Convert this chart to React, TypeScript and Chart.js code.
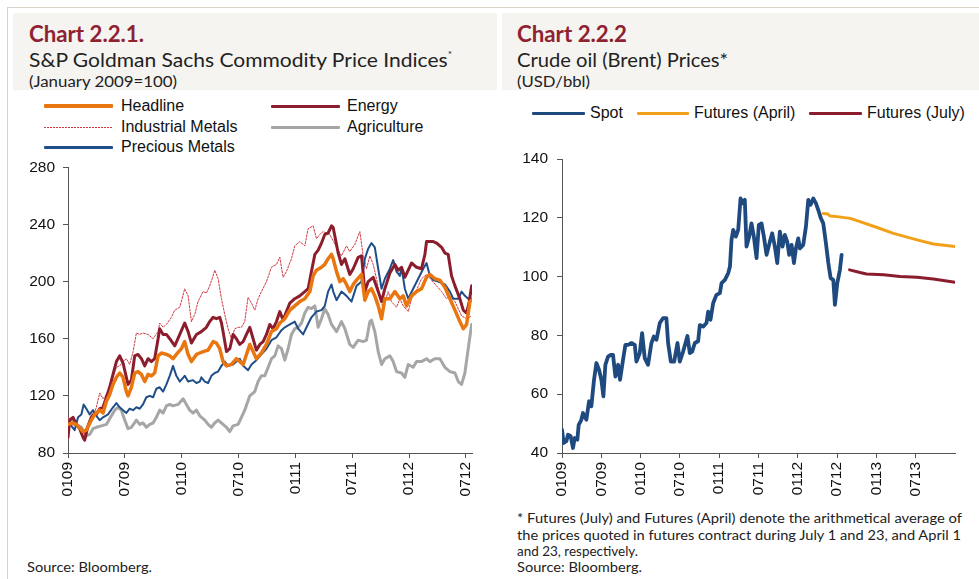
import React, { useEffect, useLayoutEffect, useRef } from 'react';
import { Chart, registerables } from 'chart.js';

Chart.register(...registerables);

// ---------- Chart 2.2.1 data (x = months since January 2009) ----------
const leftTickMonths = [0, 6, 12, 18, 24, 30, 36, 42];
const leftTickLabels = ['0109', '0709', '0110', '0710', '0111', '0711', '0112', '0712'];
const leftYTicks = [80, 120, 160, 200, 240, 280];

const headline: [number, number][] = [
  [0, 100], [0.5, 101], [0.88, 100], [1.58, 95], [1.94, 96], [2.46, 103], [2.82, 107], [3.35, 110], [3.7, 108], [4.05, 116],
  [4.4, 121], [4.75, 128], [5.11, 133], [5.46, 136], [5.81, 133], [6.16, 123], [6.34, 120], [6.69, 126], [7.04, 136], [7.39, 137],
  [7.75, 135], [8.1, 130], [8.45, 135], [8.8, 134], [9.15, 136], [9.51, 148], [9.86, 150], [10.39, 149], [10.74, 148], [11.09, 146],
  [11.44, 149], [11.97, 153], [12.32, 158], [12.68, 149], [13.03, 144], [13.56, 149], [13.91, 150], [14.26, 151], [14.79, 152], [15.32, 158],
  [15.67, 157], [16.02, 153], [16.37, 144], [16.73, 141], [17.25, 142], [17.78, 146], [18.13, 144], [18.49, 142], [18.84, 149], [19.19, 156],
  [19.54, 151], [19.89, 146], [20.42, 150], [20.95, 156], [21.48, 165], [22.01, 167], [22.36, 171], [22.89, 174], [23.42, 180], [23.94, 183],
  [24.47, 186], [25, 188], [25.53, 193], [25.88, 204], [26.23, 208], [26.76, 210], [27.11, 212], [27.46, 216], [27.82, 219], [27.99, 216],
  [28.35, 207], [28.7, 200], [29.05, 202], [29.4, 198], [29.75, 193], [30.11, 198], [30.46, 201], [30.99, 205], [31.34, 187], [31.69, 193],
  [32.04, 195], [32.39, 190], [32.75, 183], [33.1, 174], [33.45, 188], [33.98, 188], [34.51, 193], [35.04, 188], [35.39, 190], [35.74, 183],
  [36.27, 190], [36.8, 193], [37.32, 195], [37.85, 203], [38.2, 205], [38.73, 202], [39.26, 201], [39.79, 196], [40.32, 188], [40.85, 180],
  [41.37, 172], [41.73, 167], [42.08, 170], [42.43, 186], [42.61, 187],
];

const energy: [number, number][] = [
  [0, 91], [0.18, 103], [0.53, 105], [0.88, 100], [1.23, 97], [1.58, 91], [1.76, 89], [2.11, 99], [2.46, 105], [2.82, 108],
  [2.99, 107], [3.35, 111], [3.7, 112], [4.05, 119], [4.4, 126], [4.75, 135], [5.11, 144], [5.46, 148], [5.81, 143], [6.16, 133],
  [6.34, 128], [6.69, 131], [7.04, 148], [7.39, 149], [7.75, 146], [8.1, 141], [8.45, 146], [8.8, 144], [9.15, 146], [9.51, 160],
  [9.68, 167], [10.04, 163], [10.39, 163], [10.74, 160], [11.27, 155], [11.8, 163], [12.32, 171], [12.68, 165], [13.03, 157], [13.56, 163],
  [14.08, 165], [14.61, 168], [14.96, 172], [15.32, 175], [15.67, 174], [16.02, 175], [16.2, 171], [16.37, 165], [16.73, 151], [17.08, 153],
  [17.43, 163], [17.78, 160], [18.13, 156], [18.49, 158], [18.84, 163], [19.19, 168], [19.54, 160], [19.89, 152], [20.25, 156], [20.6, 158],
  [20.95, 163], [21.3, 170], [21.65, 167], [22.01, 172], [22.36, 179], [22.71, 173], [23.06, 179], [23.42, 185], [23.94, 188], [24.47, 190],
  [25, 193], [25.35, 195], [25.7, 207], [26.06, 219], [26.41, 222], [26.76, 227], [27.11, 233], [27.46, 234], [27.82, 239], [27.99, 238],
  [28.52, 220], [28.87, 212], [29.23, 216], [29.75, 205], [30.11, 209], [30.63, 217], [30.99, 218], [31.34, 193], [31.69, 200], [32.22, 203],
  [32.75, 193], [33.1, 186], [33.45, 195], [33.98, 206], [34.51, 212], [34.86, 208], [35.21, 210], [35.56, 203], [36.27, 213], [36.8, 210],
  [37.32, 209], [37.68, 219], [37.85, 228], [38.56, 228], [38.91, 227], [39.44, 224], [39.79, 220], [40.14, 219], [40.49, 204], [40.85, 197],
  [41.37, 188], [41.73, 180], [42.08, 178], [42.36, 186], [42.61, 197],
];

const industrialMetals: [number, number][] = [
  [0, 105], [0.35, 100], [0.88, 99], [1.41, 98], [1.76, 93], [2.29, 100], [2.64, 105], [2.99, 112], [3.35, 122], [3.7, 118],
  [4.05, 121], [4.4, 125], [4.75, 133], [5.11, 140], [5.46, 141], [5.81, 144], [6.16, 146], [6.51, 142], [6.87, 151], [7.22, 164],
  [7.57, 163], [7.92, 164], [8.45, 163], [8.98, 160], [9.51, 165], [9.68, 171], [10.04, 168], [10.39, 170], [10.92, 175], [11.27, 180],
  [11.8, 182], [12.32, 195], [12.68, 190], [13.03, 172], [13.38, 177], [13.73, 186], [14.26, 193], [14.61, 192], [14.96, 197], [15.32, 204],
  [15.49, 208], [15.85, 202], [16.2, 188], [16.55, 177], [16.9, 167], [17.25, 160], [17.61, 167], [17.96, 168], [18.31, 168], [18.66, 172],
  [19.01, 189], [19.37, 185], [19.72, 180], [20.07, 188], [20.42, 193], [20.95, 200], [21.48, 210], [22.01, 212], [22.36, 217], [22.71, 203],
  [23.06, 207], [23.59, 216], [23.94, 225], [24.47, 228], [25, 225], [25.35, 237], [25.88, 239], [26.23, 230], [26.58, 233], [26.94, 235],
  [27.29, 234], [27.64, 233], [28.35, 224], [28.87, 218], [29.4, 225], [29.75, 221], [30.28, 226], [30.81, 235], [31.16, 218], [31.51, 209],
  [31.87, 218], [32.22, 212], [32.57, 202], [32.92, 190], [33.27, 181], [33.8, 193], [34.15, 186], [34.68, 182], [35.04, 188], [35.39, 183],
  [35.92, 179], [36.27, 188], [36.8, 194], [37.32, 202], [37.85, 205], [38.38, 201], [38.91, 197], [39.44, 193], [39.96, 188], [40.32, 190],
  [40.85, 186], [41.55, 176], [42.08, 174], [42.61, 176],
];

const agriculture: [number, number][] = [
  [0, 103], [0.35, 104], [0.88, 100], [1.41, 98], [1.94, 92], [2.29, 93], [2.64, 97], [2.99, 98], [3.52, 99], [4.05, 100],
  [4.4, 104], [4.93, 110], [5.28, 112], [5.63, 110], [5.99, 103], [6.34, 97], [6.69, 98], [7.22, 103], [7.57, 100], [7.92, 101],
  [8.27, 98], [8.63, 100], [8.98, 101], [9.33, 105], [9.68, 110], [10.04, 108], [10.39, 113], [10.74, 114], [11.09, 113], [11.62, 114],
  [12.15, 118], [12.5, 114], [12.85, 110], [13.2, 108], [13.56, 110], [13.91, 106], [14.44, 103], [14.79, 100], [15.14, 98], [15.49, 101],
  [15.85, 103], [16.37, 100], [16.73, 98], [17.08, 95], [17.43, 99], [17.96, 100], [18.31, 105], [18.66, 110], [19.19, 120], [19.72, 123],
  [20.07, 130], [20.42, 134], [20.77, 134], [21.13, 140], [21.48, 146], [21.83, 148], [22.18, 155], [22.54, 153], [22.89, 145], [23.24, 153],
  [23.59, 163], [23.94, 167], [24.3, 168], [24.65, 171], [25, 178], [25.35, 182], [25.7, 181], [26.06, 183], [26.41, 168], [26.76, 174],
  [27.11, 181], [27.46, 177], [27.82, 170], [28.35, 165], [28.87, 172], [29.23, 167], [29.75, 156], [30.11, 154], [30.63, 159], [31.16, 158],
  [31.51, 159], [31.87, 172], [32.04, 173], [32.39, 165], [32.75, 151], [33.1, 142], [33.45, 146], [33.98, 148], [34.33, 144], [34.68, 137],
  [35.21, 136], [35.56, 133], [35.92, 142], [36.44, 140], [36.8, 144], [37.32, 144], [37.85, 146], [38.2, 144], [38.73, 146], [39.26, 146],
  [39.79, 140], [40.32, 137], [40.85, 136], [41.2, 130], [41.55, 128], [41.9, 136], [42.25, 153], [42.61, 170],
];

const preciousMetals: [number, number][] = [
  [0, 101], [0.35, 99], [0.7, 96], [1.06, 105], [1.41, 107], [1.65, 114], [1.94, 111], [2.29, 107], [2.64, 110], [2.99, 106],
  [3.35, 103], [3.7, 105], [4.23, 107], [4.75, 112], [5.11, 115], [5.46, 112], [5.81, 110], [6.16, 108], [6.51, 111], [6.87, 110],
  [7.22, 112], [7.57, 111], [7.92, 114], [8.27, 119], [8.63, 120], [8.98, 119], [9.33, 125], [9.68, 126], [10.04, 123], [10.39, 128],
  [10.74, 134], [11.09, 141], [11.44, 134], [11.8, 130], [12.32, 134], [12.68, 130], [13.2, 131], [13.56, 129], [13.91, 130], [14.08, 133],
  [14.44, 130], [14.79, 129], [15.14, 134], [15.49, 136], [15.85, 137], [16.2, 141], [16.55, 144], [16.9, 141], [17.43, 142], [17.78, 144],
  [18.13, 146], [18.49, 141], [19.01, 138], [19.37, 142], [19.89, 145], [20.42, 149], [20.95, 153], [21.48, 159], [22.01, 161], [22.54, 166],
  [22.89, 168], [23.42, 170], [23.94, 172], [24.3, 167], [24.82, 163], [25.18, 168], [25.7, 175], [26.23, 179], [26.76, 180], [27.11, 183],
  [27.46, 193], [27.82, 198], [28, 193], [28.35, 187], [28.87, 193], [29.4, 190], [29.93, 186], [30.46, 197], [30.99, 200], [31.34, 216],
  [31.69, 223], [32.04, 227], [32.39, 224], [32.75, 209], [33.1, 195], [33.45, 202], [33.98, 209], [34.33, 215], [34.68, 207], [35.04, 204],
  [35.21, 210], [35.56, 195], [35.92, 188], [36.44, 195], [36.97, 202], [37.5, 209], [37.85, 213], [38.2, 204], [38.56, 201], [39.08, 200],
  [39.79, 198], [40.32, 193], [40.67, 188], [41.2, 188], [41.55, 193], [41.9, 190], [42.25, 188], [42.61, 188],
];

// ---------- Chart 2.2.2 data (x = months since January 2009) ----------
const rightTickMonths = [0, 6, 12, 18, 24, 30, 36, 42, 48, 54];
const rightTickLabels = ['0109', '0709', '0110', '0710', '0111', '0711', '0112', '0712', '0113', '0713'];
const rightYTicks = [40, 60, 80, 100, 120, 140];

const spot: [number, number][] = [
  [0, 47.9], [0.25, 43.4], [0.66, 44], [0.92, 46.2], [1.32, 45.7], [1.68, 41.7], [1.94, 45.1], [2.34, 44.5], [2.55, 49.6], [2.95, 51.3],
  [3.21, 53.6], [3.72, 51.3], [4.13, 57.6], [4.48, 55.9], [4.89, 64.9], [5.25, 70.6], [5.65, 68.3], [6.01, 64.9], [6.32, 59.3], [6.62, 70],
  [7.03, 72.8], [7.44, 73.4], [7.79, 73.4], [8.15, 66], [8.56, 70], [8.86, 64.9], [9.32, 71.7], [9.68, 76.8], [10.09, 76.8], [10.6, 77.4],
  [11.11, 76.8], [11.36, 71.1], [11.87, 74], [12.23, 80.8], [12.63, 72.3], [13.14, 70], [13.65, 77.4], [14.01, 79.6], [14.42, 78.5], [14.93, 84.2],
  [15.44, 85.9], [15.94, 85.9], [16.2, 77.4], [16.61, 71.1], [17.12, 71.1], [17.63, 77.4], [17.98, 71.1], [18.49, 74.5], [19.15, 79.8], [19.51, 74],
  [19.87, 74.5], [20.28, 77.4], [20.78, 78], [21.04, 83.5], [21.55, 83], [22.06, 84.2], [22.32, 88.1], [22.67, 85.3], [23.08, 91], [23.59, 93.8],
  [24.1, 94.4], [24.36, 97.8], [24.87, 98.9], [25.38, 101.2], [25.64, 103.4], [25.88, 112.5], [26.14, 115.9], [26.54, 113.6], [26.9, 115.9], [27.26, 126.6],
  [27.57, 124.9], [27.91, 126.1], [28.17, 110.2], [28.58, 113.6], [28.93, 118.1], [29.29, 113.6], [29.7, 106.3], [30.05, 117.6], [30.46, 118.1], [30.82, 113.6],
  [31.23, 107.4], [31.74, 111.9], [32.09, 114.7], [32.5, 110.2], [32.86, 104.6], [33.26, 115.3], [33.67, 110.2], [34.02, 114.2], [34.38, 111.9], [34.69, 107.4],
  [35.05, 110.8], [35.41, 104.6], [35.71, 109.6], [36.07, 113], [36.32, 109.6], [36.83, 110.8], [37.24, 117], [37.6, 126.1], [37.95, 124.4], [38.36, 126.6],
  [38.77, 124.9], [39.12, 122.7], [39.53, 119.8], [39.89, 118.1], [40.3, 111.3], [40.66, 104.6], [41.01, 99.5], [41.42, 98.9], [41.67, 90.4], [42.03, 97.8],
  [42.43, 102.3], [42.69, 107.4],
];

const futuresApril: [number, number][] = [
  [39.9, 121.5], [40.6, 121.3], [40.9, 120.6], [42, 120.4], [44, 119.8], [45.5, 118.7], [48, 116.8], [50.6, 114.7], [54.2, 112.5], [56.7, 111.1], [60, 110.2],
];

const futuresJuly: [number, number][] = [
  [43.9, 102.3], [45.5, 101.4], [46.5, 100.9], [49.1, 100.6], [51.6, 100], [54.2, 99.8], [56.7, 99.2], [60, 98.1],
];

// ---------- styling ----------
const TICK_FONT = "'Liberation Sans', Arial, Helvetica, sans-serif";
const GOTHIC = "Lato, 'Open Sans', sans-serif";
const TITLE_RED = '#8E2232';
const FRAME = '#D8D2C8';
const HEADER_BG = '#F5F4F0';

const C_HEADLINE = '#E9760F';
const C_ENERGY = '#8C1D2C';
const C_INDUSTRIAL = '#CF3A45';
const C_AGRI = '#A6A6A6';
const C_PRECIOUS = '#1F4E89';
const C_SPOT = '#1F4A7F';
const C_APRIL = '#F2A01A';
const C_JULY = '#8A1C2C';

type Series = { data: [number, number][]; color: string; width: number; dash?: number[] };

function toPoints(arr: [number, number][]) {
  return arr.map(([x, y]) => ({ x, y }));
}

function FitText(props: { x: number; y: number; w: number; size: number; weight?: number; color?: string; children: React.ReactNode }) {
  const ref = useRef<HTMLDivElement>(null);
  useLayoutEffect(() => {
    const fit = () => {
      const el = ref.current;
      if (!el) return;
      el.style.transform = 'none';
      const actual = el.getBoundingClientRect().width;
      if (actual > 0) el.style.transform = `scaleX(${props.w / actual})`;
    };
    fit();
    if ((document as any).fonts && (document as any).fonts.ready) (document as any).fonts.ready.then(fit);
  }, [props.w]);
  return (
    <div
      ref={ref}
      style={{
        position: 'absolute',
        left: props.x,
        top: props.y,
        whiteSpace: 'nowrap',
        transformOrigin: '0 0',
        fontFamily: GOTHIC,
        fontSize: props.size,
        fontWeight: props.weight ?? 400,
        lineHeight: 1,
        color: props.color ?? '#222',
      }}
    >
      {props.children}
    </div>
  );
}

function LegendItem(props: { x: number; y: number; lineW: number; gap: number; color: string; thick: number; dotted?: boolean; label: string }) {
  const lineStyle: React.CSSProperties = props.dotted
    ? { width: props.lineW, height: 1, background: `repeating-linear-gradient(to right, ${props.color} 0 2px, transparent 2px 3px)` }
    : { width: props.lineW, height: props.thick, background: props.color, borderRadius: 1 };
  return (
    <div style={{ position: 'absolute', left: props.x, top: props.y - 10, height: 20, display: 'flex', alignItems: 'center', whiteSpace: 'nowrap' }}>
      <div style={lineStyle} />
      <span style={{ marginLeft: props.gap, fontFamily: TICK_FONT, fontSize: 16, lineHeight: '20px', color: '#111' }}>{props.label}</span>
    </div>
  );
}

function LineChart(props: {
  left: number; top: number; width: number; height: number;
  series: Series[]; xMax: number; xTicks: number[]; xLabels: string[];
  yMin: number; yMax: number; yTicks: number[]; yWidth: number; yPad: number;
  padTop: number; padRight: number; xHeight: number;
}) {
  const ref = useRef<HTMLCanvasElement>(null);
  useEffect(() => {
    const canvas = ref.current;
    if (!canvas) return;
    const chart = new Chart(canvas, {
      type: 'line',
      data: {
        datasets: props.series.map((s) => ({
          data: toPoints(s.data),
          borderColor: s.color,
          backgroundColor: s.color,
          borderWidth: s.width,
          borderDash: s.dash ?? [],
          pointRadius: 0,
          fill: false,
          tension: 0,
          borderCapStyle: 'round',
          borderJoinStyle: 'round',
        })) as any,
      },
      options: {
        responsive: false,
        animation: false,
        events: [],
        layout: { padding: { top: props.padTop, right: props.padRight, left: 0, bottom: 0 } },
        plugins: { legend: { display: false }, tooltip: { enabled: false }, title: { display: false } },
        scales: {
          x: {
            type: 'linear',
            min: 0,
            max: props.xMax,
            afterBuildTicks: (s: any) => { s.ticks = props.xTicks.map((v) => ({ value: v })); },
            afterFit: (s: any) => { s.height = props.xHeight; },
            ticks: {
              autoSkip: false,
              minRotation: 90,
              maxRotation: 90,
              padding: 4,
              color: '#111',
              font: { family: TICK_FONT, size: 15.5 },
              callback: (_v: any, i: number) => props.xLabels[i] ?? '',
            },
            grid: { drawOnChartArea: false, drawTicks: true, tickLength: 5, color: '#555' },
            border: { display: true, color: '#555', width: 1 },
          },
          y: {
            type: 'linear',
            min: props.yMin,
            max: props.yMax,
            afterBuildTicks: (s: any) => { s.ticks = props.yTicks.map((v) => ({ value: v })); },
            afterFit: (s: any) => { s.width = props.yWidth; },
            ticks: { padding: props.yPad, color: '#111', font: { family: TICK_FONT, size: 15.5 } },
            grid: { drawOnChartArea: false, drawTicks: true, tickLength: 5, color: '#555' },
            border: { display: true, color: '#555', width: 1 },
          },
        },
      } as any,
    });
    return () => chart.destroy();
  }, []);
  return (
    <canvas
      ref={ref}
      width={props.width}
      height={props.height}
      style={{ position: 'absolute', left: props.left, top: props.top, width: props.width, height: props.height }}
    />
  );
}

export default function App() {
  const leftSeries: Series[] = [
    { data: headline, color: C_HEADLINE, width: 3.5 },
    { data: energy, color: C_ENERGY, width: 3 },
    { data: preciousMetals, color: C_PRECIOUS, width: 2 },
    { data: industrialMetals, color: C_INDUSTRIAL, width: 1, dash: [2, 1.5] },
    { data: agriculture, color: C_AGRI, width: 3 },
  ];
  const rightSeries: Series[] = [
    { data: spot, color: C_SPOT, width: 3.8 },
    { data: futuresApril, color: C_APRIL, width: 3 },
    { data: futuresJuly, color: C_JULY, width: 3 },
  ];
  const textColor = '#222';
  return (
    <div style={{ position: 'absolute', left: 0, top: 0, width: 979, height: 579, background: '#fff', overflow: 'hidden' }}>
      {/* frame */}
      <div style={{ position: 'absolute', left: 7, top: 7, width: 972, height: 1, background: FRAME }} />
      <div style={{ position: 'absolute', left: 7, top: 7, width: 1, height: 572, background: FRAME }} />
      {/* header boxes */}
      <div style={{ position: 'absolute', left: 13, top: 13, width: 484, height: 77, background: HEADER_BG }} />
      <div style={{ position: 'absolute', left: 502, top: 13, width: 477, height: 77, background: HEADER_BG }} />

      {/* left header */}
      <FitText x={29} y={23} w={115} size={22.5} weight={700} color={TITLE_RED}>Chart 2.2.1.</FitText>
      <FitText x={29} y={51} w={423} size={18.5} color={textColor}>
        S&amp;P Goldman Sachs Commodity Price Indices<sup style={{ fontSize: 9, verticalAlign: 'top', position: 'relative', top: -1 }}>*</sup>
      </FitText>
      <FitText x={29} y={75} w={148} size={14.5} color={textColor}>(January 2009=100)</FitText>

      {/* right header */}
      <FitText x={517} y={23} w={110} size={22.5} weight={700} color={TITLE_RED}>Chart 2.2.2</FitText>
      <FitText x={517} y={51} w={211} size={18.5} color={textColor}>Crude oil (Brent) Prices*</FitText>
      <FitText x={517} y={75} w={73} size={14.5} color={textColor}>(USD/bbl)</FitText>

      {/* left legend */}
      <LegendItem x={44} y={106} lineW={69} gap={8} color={C_HEADLINE} thick={4} label="Headline" />
      <LegendItem x={44} y={127} lineW={69} gap={8} color={C_INDUSTRIAL} thick={1} dotted label="Industrial Metals" />
      <LegendItem x={44} y={147} lineW={69} gap={8} color={C_PRECIOUS} thick={3} label="Precious Metals" />
      <LegendItem x={271} y={106} lineW={69} gap={7} color={C_ENERGY} thick={3} label="Energy" />
      <LegendItem x={271} y={127} lineW={69} gap={7} color={C_AGRI} thick={3} label="Agriculture" />

      {/* right legend */}
      <LegendItem x={532} y={113} lineW={53} gap={5} color={C_SPOT} thick={3} label="Spot" />
      <LegendItem x={637} y={113} lineW={52} gap={5} color={C_APRIL} thick={3} label="Futures (April)" />
      <LegendItem x={809} y={113} lineW={53} gap={5} color={C_JULY} thick={3} label="Futures (July)" />

      <LineChart
        left={13} top={150} width={480} height={360}
        series={leftSeries}
        xMax={42.65} xTicks={leftTickMonths} xLabels={leftTickLabels}
        yMin={80} yMax={280} yTicks={leftYTicks} yWidth={55} yPad={8}
        padTop={14} padRight={21} xHeight={57}
      />
      <LineChart
        left={502} top={140} width={477} height={370}
        series={rightSeries}
        xMax={60} xTicks={rightTickMonths} xLabels={rightTickLabels}
        yMin={40} yMax={140} yTicks={rightYTicks} yWidth={60} yPad={9}
        padTop={19} padRight={24} xHeight={57}
      />

      {/* footnotes */}
      <FitText x={517} y={512} w={445} size={13} color={textColor}>* Futures (July) and Futures (April) denote the arithmetical average of</FitText>
      <FitText x={517} y={529} w={444} size={13} color={textColor}>the prices quoted in futures contract during July 1 and 23, and April 1</FitText>
      <FitText x={517} y={545} w={121} size={13} color={textColor}>and 23, respectively.</FitText>
      <FitText x={517} y={561} w={125} size={13} color={textColor}>Source: Bloomberg.</FitText>
      <FitText x={27} y={561} w={125} size={13} color={textColor}>Source: Bloomberg.</FitText>
    </div>
  );
}
